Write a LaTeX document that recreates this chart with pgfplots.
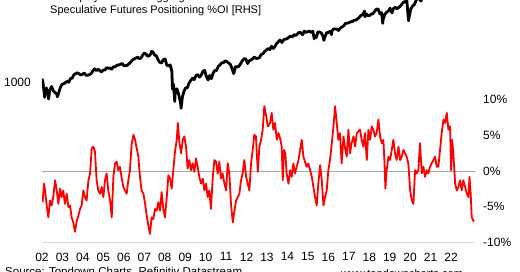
\documentclass[border=0pt]{standalone}
\usepackage{fontspec}
\setmainfont{Liberation Sans}
\usepackage{pgfplots}
\usepackage{pgfplotstable}
\pgfplotsset{compat=1.18}
\definecolor{zeroline}{HTML}{A6A6A6}
\definecolor{baseln}{HTML}{D9D9D9}
\definecolor{redline}{HTML}{FF0000}

\pgfplotstableread{
x y
2002.00 1050
2002.05 990
2002.10 870
2002.13 800
2002.16 900
2002.22 916
2002.30 815
2002.32 780
2002.38 885
2002.47 936
2002.55 880
2002.64 855
2002.725 841
2002.75 805
2002.81 848
2002.89 917
2002.975 964
2003.06 975
2003.14 990
2003.225 1008
2003.31 996
2003.39 1051
2003.475 1058
2003.56 1112
2003.65 1131
2003.73 1145
2003.82 1126
2003.90 1107
2003.98 1121
2004.07 1141
2004.15 1102
2004.23 1104
2004.32 1115
2004.40 1130
2004.48 1174
2004.57 1212
2004.66 1181
2004.74 1204
2004.825 1181
2004.91 1157
2004.99 1192
2005.075 1191
2005.16 1234
2005.24 1220
2005.325 1229
2005.41 1207
2005.49 1249
2005.575 1248
2005.67 1280
2005.75 1281
2005.83 1295
2005.92 1311
2006.00 1270
2006.08 1270
2006.17 1277
2006.25 1304
2006.33 1336
2006.42 1378
2006.50 1401
2006.58 1418
2006.675 1438
2006.76 1407
2006.84 1421
2006.925 1482
2007.01 1531
2007.09 1503
2007.175 1455
2007.26 1474
2007.34 1527
2007.36 1565
2007.425 1549
2007.51 1481
2007.59 1468
2007.68 1378
2007.77 1331
2007.85 1323
2007.93 1386
2008.02 1400
2008.10 1280
2008.18 1267
2008.27 1283
2008.35 1166
2008.38 900
2008.43 969
2008.49 752
2008.52 896
2008.60 903
2008.69 826
2008.775 735
2008.80 680
2008.86 798
2008.94 873
2009.025 919
2009.11 919
2009.19 987
2009.275 1021
2009.36 1057
2009.44 1036
2009.525 1096
2009.61 1115
2009.70 1074
2009.78 1104
2009.87 1169
2009.95 1187
2010.03 1089
2010.12 1031
2010.20 1102
2010.28 1049
2010.37 1141
2010.45 1183
2010.53 1181
2010.62 1258
2010.71 1286
2010.79 1327
2010.875 1326
2010.96 1364
2011.04 1345
2011.125 1321
2011.21 1292
2011.29 1219
2011.375 1131
2011.46 1253
2011.54 1247
2011.625 1258
2011.72 1312
2011.80 1366
2011.88 1408
2011.97 1398
2012.05 1310
2012.13 1362
2012.22 1379
2012.30 1407
2012.38 1441
2012.47 1412
2012.55 1416
2012.63 1426
2012.72 1498
2012.81 1515
2012.89 1569
2012.97 1598
2013.06 1631
2013.14 1606
2013.22 1686
2013.31 1633
2013.39 1682
2013.47 1757
2013.56 1806
2013.64 1848
2013.73 1783
2013.82 1859
2013.90 1872
2013.98 1884
2014.07 1924
2014.15 1960
2014.23 1931
2014.32 2003
2014.40 1972
2014.48 2018
2014.57 2068
2014.65 2059
2014.74 1995
2014.825 2105
2014.91 2068
2014.99 2086
2015.075 2107
2015.16 2063
2015.24 2104
2015.31 1880
2015.325 1972
2015.41 1920
2015.49 2079
2015.575 2080
2015.66 2044
2015.75 1940
2015.78 1840
2015.83 1932
2015.92 2060
2016.00 2065
2016.08 2097
2016.155 2000
2016.17 2099
2016.25 2174
2016.33 2171
2016.42 2168
2016.50 2126
2016.58 2199
2016.67 2239
2016.76 2279
2016.84 2364
2016.925 2363
2017.01 2384
2017.09 2412
2017.175 2423
2017.26 2470
2017.34 2472
2017.425 2519
2017.51 2575
2017.59 2648
2017.675 2674
2017.77 2824
2017.79 2600
2017.85 2714
2017.93 2641
2018.02 2648
2018.10 2705
2018.18 2718
2018.27 2816
2018.35 2902
2018.43 2914
2018.52 2712
2018.60 2760
2018.66 2360
2018.68 2507
2018.77 2704
2018.86 2784
2018.94 2834
2019.02 2946
2019.11 2752
2019.19 2942
2019.27 2980
2019.36 2926
2019.44 2977
2019.52 3038
2019.61 3141
2019.69 3231
2019.78 3226
2019.83 3386
2019.92 2450
2019.95 2585
2020.03 2912
2020.12 3044
2020.20 3100
2020.28 3271
2020.37 3500
2020.45 3363
2020.53 3270
2020.62 3622
2020.70 3756
2020.79 3714
2020.96 3973
2021.21 4298
2021.46 4308
2021.71 4766
2021.97 4530
2022.22 3785
2022.47 3586
2022.72 3840
2022.90 3970
}\eqtable

\pgfplotstableread{
x y
2002.03 -4.35
2002.10 -1.75
2002.15 -2.70
2002.23 -4.82
2002.31 -6.48
2002.39 -4.11
2002.47 -4.82
2002.55 -3.64
2002.64 -1.28
2002.72 -2.70
2002.80 -4.59
2002.88 -2.46
2002.96 -3.64
2003.04 -2.70
2003.12 -4.59
2003.21 -3.17
2003.29 -5.06
2003.37 -4.82
2003.45 -6.48
2003.53 -7.19
2003.61 -8.50
2003.70 -6.95
2003.78 -6.24
2003.86 -5.30
2003.94 -4.82
2004.02 -2.70
2004.10 -3.64
2004.18 -4.11
2004.27 -1.28
2004.35 -0.33
2004.43 3.21
2004.51 3.45
2004.59 2.74
2004.67 -1.28
2004.75 -2.70
2004.84 -3.17
2004.92 -2.22
2005.00 -3.64
2005.08 -1.28
2005.16 -0.33
2005.24 -2.70
2005.33 -4.11
2005.41 -6.48
2005.49 -0.80
2005.57 1.09
2005.65 1.32
2005.73 0.14
2005.81 0.61
2005.90 -1.04
2005.98 -2.22
2006.06 -2.70
2006.14 -3.17
2006.22 -1.28
2006.30 0.14
2006.38 3.69
2006.47 5.11
2006.55 4.40
2006.63 3.21
2006.71 2.03
2006.79 -0.80
2006.87 -2.70
2006.96 -3.17
2007.04 -4.59
2007.12 -6.24
2007.20 -7.66
2007.28 -8.80
2007.36 -6.48
2007.44 -6.71
2007.53 -5.30
2007.61 -5.53
2007.69 -4.35
2007.77 -5.53
2007.85 -2.93
2007.93 -5.30
2008.01 -6.48
2008.10 -3.64
2008.18 -0.57
2008.26 -1.04
2008.34 -2.46
2008.42 0.14
2008.50 2.74
2008.59 4.40
2008.64 6.76
2008.72 3.92
2008.80 2.50
2008.88 4.40
2008.96 4.87
2009.04 3.45
2009.12 0.38
2009.20 1.56
2009.29 0.14
2009.37 1.09
2009.45 -0.09
2009.53 1.80
2009.61 0.61
2009.69 -0.80
2009.78 -1.75
2009.86 -1.04
2009.94 -2.70
2010.02 -1.75
2010.10 -3.64
2010.18 -2.70
2010.26 -5.30
2010.35 -0.80
2010.43 1.56
2010.51 1.32
2010.59 -0.33
2010.67 1.32
2010.75 -1.04
2010.83 -0.33
2010.92 -1.75
2011.00 -2.70
2011.08 1.09
2011.16 -0.33
2011.24 -4.59
2011.33 -7.19
2011.41 -5.53
2011.49 -4.11
2011.57 -3.64
2011.65 -3.17
2011.73 -1.28
2011.81 -0.33
2011.89 1.56
2011.98 -0.80
2012.06 -1.75
2012.14 -2.70
2012.22 1.09
2012.30 2.98
2012.38 5.11
2012.46 4.87
2012.55 -0.09
2012.63 3.45
2012.71 4.40
2012.79 5.82
2012.87 9.12
2012.95 7.94
2013.04 6.29
2013.15 6.76
2013.23 8.18
2013.31 5.82
2013.39 6.76
2013.48 4.40
2013.56 5.34
2013.64 4.63
2013.72 3.45
2013.77 -1.28
2013.83 2.98
2013.90 2.50
2013.96 -0.33
2014.05 -1.75
2014.13 0.14
2014.21 -0.80
2014.29 1.09
2014.37 -0.33
2014.45 0.61
2014.54 1.56
2014.62 2.98
2014.70 4.40
2014.78 2.03
2014.86 1.32
2014.94 0.61
2015.02 1.09
2015.11 0.14
2015.19 -0.80
2015.27 -2.22
2015.35 -3.64
2015.43 -4.82
2015.51 -1.75
2015.60 0.85
2015.68 -1.28
2015.76 -4.82
2015.84 -3.64
2015.92 -2.70
2016.00 0.14
2016.08 1.56
2016.17 3.92
2016.25 6.29
2016.33 9.12
2016.41 6.76
2016.49 4.40
2016.57 5.34
2016.65 1.09
2016.74 4.87
2016.82 3.21
2016.90 2.03
2016.98 5.82
2017.06 2.50
2017.14 3.92
2017.23 4.87
2017.31 3.45
2017.39 5.34
2017.47 5.58
2017.55 5.82
2017.63 4.40
2017.71 3.45
2017.79 5.34
2017.88 1.56
2017.96 5.82
2018.04 4.40
2018.12 6.29
2018.20 5.82
2018.28 4.87
2018.36 5.34
2018.45 7.23
2018.53 4.87
2018.61 3.92
2018.69 4.40
2018.74 1.56
2018.79 -2.46
2018.85 0.14
2018.94 2.03
2019.02 1.56
2019.10 2.98
2019.18 4.40
2019.26 2.50
2019.34 1.56
2019.43 3.45
2019.51 1.56
2019.59 2.03
2019.67 2.98
2019.75 2.50
2019.83 2.03
2019.91 1.09
2020.00 -2.70
2020.08 -4.11
2020.16 -4.59
2020.24 0.14
2020.32 -0.33
2020.40 0.14
2020.48 3.92
2020.57 -0.33
2020.65 0.61
2020.73 -0.80
2020.81 0.14
2020.89 -0.33
2020.97 0.61
2021.05 1.09
2021.14 1.56
2021.22 2.03
2021.30 0.61
2021.38 0.61
2021.46 2.98
2021.54 5.34
2021.63 7.23
2021.71 6.76
2021.79 8.18
2021.87 5.82
2021.95 6.29
2022.00 0.14
2022.05 4.40
2022.11 2.50
2022.20 -1.75
2022.28 -2.70
2022.36 -2.22
2022.44 -1.28
2022.52 -2.70
2022.60 -1.28
2022.69 -2.22
2022.77 -3.17
2022.85 -3.64
2022.90 -0.80
2022.96 -3.17
2023.01 -6.48
2023.09 -6.95
2023.14 -7.00
}\postable

\begin{document}
\begin{tikzpicture}
% left axis: equity index (log)
\begin{axis}[
  at={(42pt,29.5pt)}, anchor=south west, scale only axis,
  width=433pt, height=242.5pt,
  xmin=2002, xmax=2023.17,
  ymode=log, ymin=95.4, ymax=3322,
  axis line style={draw=none},
  xtick=\empty,
  ytick={1000}, yticklabels={1000},
  major tick length=0pt,
  /pgf/number format/assume math mode=true,
  yticklabel style={anchor=east, inner sep=0pt, xshift=-11pt, font=\fontsize{12}{14}\selectfont},
]
\addplot[black, line width=2.8pt, line join=round] table[x=x,y=y] {\eqtable};
\end{axis}
% right axis: positioning %OI
\begin{axis}[
  at={(42pt,29.5pt)}, anchor=south west, scale only axis,
  width=433pt, height=242.5pt,
  xmin=2002, xmax=2023.17,
  ymin=-10, ymax=24,
  axis x line*=bottom, axis y line*=right,
  x axis line style={draw=baseln, line width=1pt},
  y axis line style={draw=none},
  xtick={2002,2003,2004,2005,2006,2007,2008,2009,2010,2011,2012,2013,2014,2015,2016,2017,2018,2019,2020,2021,2022},
  xticklabels={02,03,04,05,06,07,08,09,10,11,12,13,14,15,16,17,18,19,20,21,22},
  ytick={-10,-5,0,5,10},
  yticklabels={-10\%,-5\%,0\%,5\%,10\%},
  major tick length=0pt,
  /pgf/number format/assume math mode=true,
  xticklabel style={anchor=north, inner sep=0pt, yshift=-10pt, font=\fontsize{12}{14}\selectfont},
  yticklabel style={anchor=west, inner sep=0pt, xshift=8pt, font=\fontsize{12}{14}\selectfont},
]
\addplot[zeroline, line width=1pt, forget plot] coordinates {(2002,0) (2023.17,0)};
\addplot[redline, line width=1.8pt, line join=round] table[x=x,y=y] {\postable};
\end{axis}
\node[anchor=base west, inner sep=0pt, font=\fontsize{11}{13}\selectfont] at (50pt,271pt) {US Equity Futures - Aggregate Net};
\node[anchor=base west, inner sep=0pt, font=\fontsize{11}{13}\selectfont] at (50pt,258.5pt) {Speculative Futures Positioning \%OI [RHS]};
\node[anchor=base west, inner sep=0pt, font=\fontsize{11.5}{13}\selectfont] at (5pt,-3.6pt) {Source: Topdown Charts, Refinitiv Datastream};
\node[anchor=base east, inner sep=0pt, font=\fontsize{11}{13}\selectfont] at (463pt,-6pt) {www.topdowncharts.com};
\pgfresetboundingbox
\useasboundingbox (0pt,0pt) rectangle (520pt,272pt);
\end{tikzpicture}
\end{document}
